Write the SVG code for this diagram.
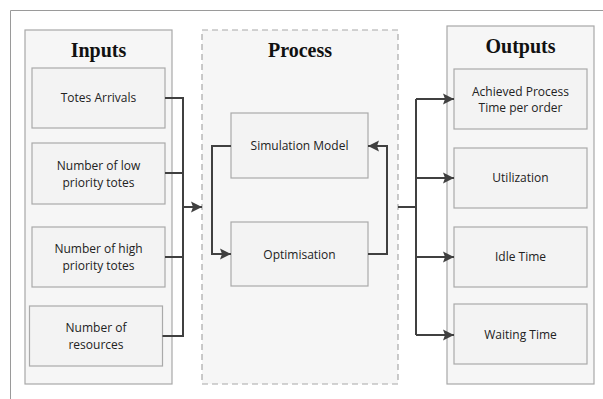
<svg xmlns="http://www.w3.org/2000/svg" width="603" height="399" viewBox="0 0 603 399">
<defs>
<marker id="ah" markerWidth="12" markerHeight="12" refX="11" refY="6" orient="auto" markerUnits="userSpaceOnUse">
<path d="M0,0.5 L11,6 L0,11.5 L2,6 Z" fill="#404040"/>
</marker>
<style>
.panel{fill:#f6f6f6;stroke:#a8a8a8;stroke-width:1.2}
.dash{fill:#f6f6f6;stroke:#a8a8a8;stroke-width:1.2;stroke-dasharray:6,4}
.box{fill:#f3f3f3;stroke:#aaaaaa;stroke-width:1.2}
.t{font-family:"Open Sans","Liberation Sans",sans-serif;font-size:12px;fill:#222;text-anchor:middle}
.h{font-family:"Liberation Serif","Times New Roman",serif;font-size:20px;font-weight:bold;fill:#111;text-anchor:middle}
.c{fill:none;stroke:#404040;stroke-width:2}
</style>
</defs>
<rect x="0" y="0" width="603" height="399" fill="#ffffff"/>
<path d="M10.5,399 V10.5 H603" fill="none" stroke="#9a9a9a" stroke-width="1"/>

<g id="inputs">
<rect class="panel" x="25" y="30" width="147" height="354"/>
<text class="h" x="98.5" y="57">Inputs</text>
</g>
<g id="totes-arrivals">
<rect class="box" x="32" y="68" width="133" height="60"/>
<text class="t" x="98.5" y="102">Totes Arrivals</text>
</g>
<g id="low-priority">
<rect class="box" x="32" y="143" width="133" height="61"/>
<text class="t" x="98.5" y="170">Number of low</text>
<text class="t" x="98.5" y="187">priority totes</text>
</g>
<g id="high-priority">
<rect class="box" x="32" y="227" width="133" height="60"/>
<text class="t" x="98.5" y="253">Number of high</text>
<text class="t" x="98.5" y="270">priority totes</text>
</g>
<g id="resources">
<rect class="box" x="29.5" y="306" width="133" height="60"/>
<text class="t" x="96" y="332">Number of</text>
<text class="t" x="96" y="349">resources</text>
</g>

<g id="process">
<rect class="dash" x="202" y="30" width="196" height="354"/>
<text class="h" x="300" y="57">Process</text>
</g>
<g id="simulation-model">
<rect class="box" x="231" y="113" width="137" height="65"/>
<text class="t" x="299.5" y="150">Simulation Model</text>
</g>
<g id="optimisation">
<rect class="box" x="231" y="222" width="137" height="64"/>
<text class="t" x="299.5" y="259">Optimisation</text>
</g>

<g id="outputs">
<rect class="panel" x="447" y="26" width="147" height="358"/>
<text class="h" x="520.5" y="53">Outputs</text>
</g>
<g id="achieved">
<rect class="box" x="454" y="69" width="133" height="60"/>
<text class="t" x="520.5" y="96">Achieved Process</text>
<text class="t" x="520.5" y="112">Time per order</text>
</g>
<g id="utilization">
<rect class="box" x="454" y="148" width="133" height="60"/>
<text class="t" x="520.5" y="182">Utilization</text>
</g>
<g id="idle-time">
<rect class="box" x="454" y="227" width="133" height="60"/>
<text class="t" x="520.5" y="261">Idle Time</text>
</g>
<g id="waiting-time">
<rect class="box" x="454" y="304" width="133" height="60"/>
<text class="t" x="520.5" y="339">Waiting Time</text>
</g>

<g id="connectors">
<path class="c" d="M165,98 H183 V336 H162.5"/>
<path class="c" d="M165,173 H183"/>
<path class="c" d="M165,257 H183"/>
<path class="c" d="M183,207 H202" marker-end="url(#ah)"/>
<path class="c" d="M231,146 H212 V254 H231" marker-end="url(#ah)"/>
<path class="c" d="M368,254 H387 V146 H368" marker-end="url(#ah)"/>
<path class="c" d="M398,207 H416"/>
<path class="c" d="M416,99 V335"/>
<path class="c" d="M416,99 H454" marker-end="url(#ah)"/>
<path class="c" d="M416,178 H454" marker-end="url(#ah)"/>
<path class="c" d="M416,257 H454" marker-end="url(#ah)"/>
<path class="c" d="M416,335 H454" marker-end="url(#ah)"/>
</g>
</svg>
